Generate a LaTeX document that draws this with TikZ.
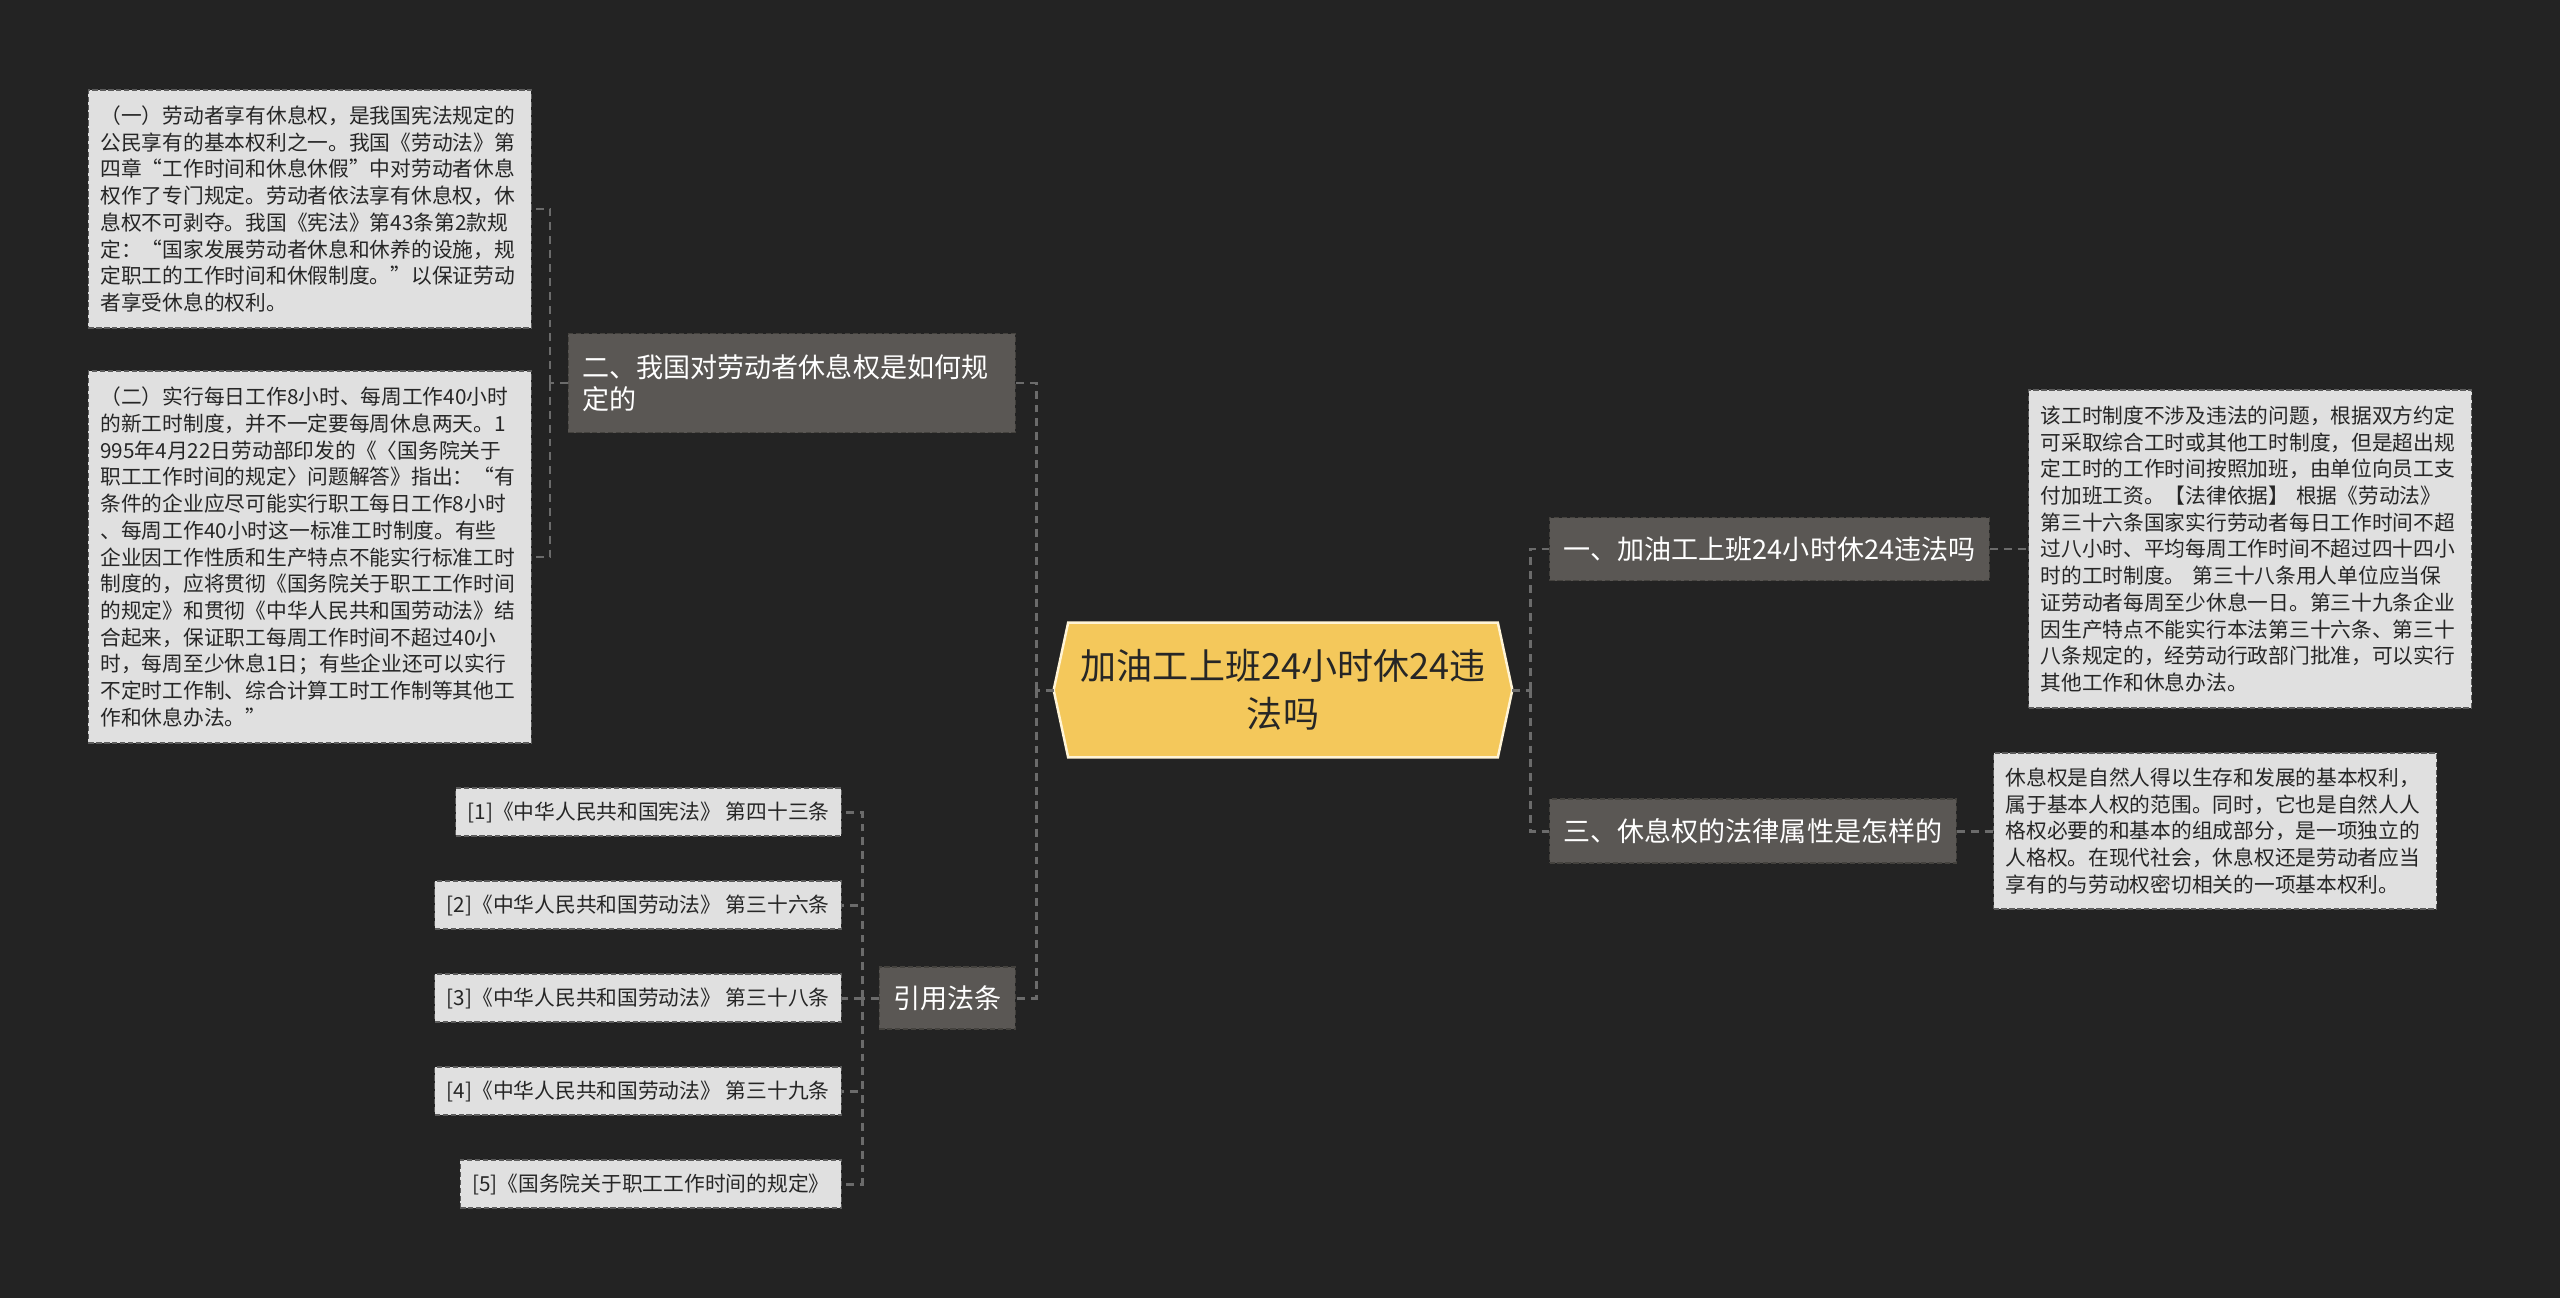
\documentclass[tikz,border=0pt]{standalone}
\usepackage{fontspec}
\setmainfont{Noto Sans CJK SC}
\usepackage{xcolor}
\usetikzlibrary{backgrounds}
\definecolor{canvas}{HTML}{232323}
\definecolor{gold}{HTML}{F4C85B}
\definecolor{goldrim}{HTML}{FFF4D6}
\definecolor{branchfill}{HTML}{5A5754}
\definecolor{branchrim}{HTML}{44423E}
\definecolor{leaffill}{HTML}{E0E0E0}
\definecolor{leafrim}{HTML}{5C5C5C}
\definecolor{wire}{HTML}{6B6B6B}
\newlength{\upx}\setlength{\upx}{0.02cm}

\begin{document}
\begin{tikzpicture}[x=0.02cm,y=-0.02cm,
  topic/.style={minimum width=458\upx,minimum height=134\upx,text width=420\upx,
    align=center,inner sep=0pt,text=black!85,
    font=\fontsize{20.5}{27.3}\selectfont},
  rim/.style={line width=0.6pt,dash pattern=on 3pt off 1.5pt},
  branch/.style={rim,draw=branchrim,fill=branchfill,text=white,inner xsep=14\upx,
    inner ysep=0pt,align=left,font=\fontsize{15.4}{18.2}\selectfont},
  leaf/.style={rim,draw=leafrim,fill=leaffill,text=black!85,text width=419\upx,
    inner xsep=12\upx,inner ysep=0pt,align=left,
    font=\fontsize{11.8}{15.2}\selectfont},
  cite/.style={rim,draw=leafrim,fill=leaffill,text=black!85,inner xsep=12\upx,
    inner ysep=0pt,minimum height=48\upx,anchor=east,
    font=\fontsize{11.8}{15.2}\selectfont},
  link/.style={draw=wire,line width=1.7pt,dash pattern=on 4.5pt off 3.4pt}]
\useasboundingbox (0,0) rectangle (2560,1298);

% centre topic
\node[topic] (root) at (1283,690) {加油工上班24小时休24违\\法吗};

% main branches
\node[branch,anchor=west,minimum height=63\upx] (b1) at (1549,549)
  {一、加油工上班24小时休24违法吗};
\node[branch,anchor=west,minimum height=64\upx] (b3) at (1549,831)
  {三、休息权的法律属性是怎样的};
\node[branch,anchor=east,minimum height=99\upx,text width=419\upx] (b2) at (1016,383)
  {二、我国对劳动者休息权是如何规\\定的};
\node[branch,anchor=east,minimum height=62\upx] (b4) at (1016,998) {引用法条};

% leaves
\node[leaf,anchor=east,minimum height=238\upx] (l21) at (532,209)
  {（一）劳动者享有休息权，是我国宪法规定的\\
   公民享有的基本权利之一。我国《劳动法》第\\
   四章“工作时间和休息休假”中对劳动者休息\\
   权作了专门规定。劳动者依法享有休息权，休\\
   息权不可剥夺。我国《宪法》第43条第2款规\\
   定：“国家发展劳动者休息和休养的设施，规\\
   定职工的工作时间和休假制度。”以保证劳动\\
   者享受休息的权利。};
\node[leaf,anchor=east,minimum height=372\upx] (l22) at (532,557)
  {（二）实行每日工作8小时、每周工作40小时\\
   的新工时制度，并不一定要每周休息两天。1\\
   995年4月22日劳动部印发的《〈国务院关于\\
   职工工作时间的规定〉问题解答》指出：“有\\
   条件的企业应尽可能实行职工每日工作8小时\\
   、每周工作40小时这一标准工时制度。有些\\
   企业因工作性质和生产特点不能实行标准工时\\
   制度的，应将贯彻《国务院关于职工工作时间\\
   的规定》和贯彻《中华人民共和国劳动法》结\\
   合起来，保证职工每周工作时间不超过40小\\
   时，每周至少休息1日；有些企业还可以实行\\
   不定时工作制、综合计算工时工作制等其他工\\
   作和休息办法。”};
\node[leaf,anchor=west,minimum height=318\upx] (r11) at (2028,549)
  {该工时制度不涉及违法的问题，根据双方约定\\
   可采取综合工时或其他工时制度，但是超出规\\
   定工时的工作时间按照加班，由单位向员工支\\
   付加班工资。【法律依据】 根据《劳动法》\\
   第三十六条国家实行劳动者每日工作时间不超\\
   过八小时、平均每周工作时间不超过四十四小\\
   时的工时制度。 第三十八条用人单位应当保\\
   证劳动者每周至少休息一日。第三十九条企业\\
   因生产特点不能实行本法第三十六条、第三十\\
   八条规定的，经劳动行政部门批准，可以实行\\
   其他工作和休息办法。};
\node[leaf,anchor=west,minimum height=156\upx] (r31) at (1993,831)
  {休息权是自然人得以生存和发展的基本权利，\\
   属于基本人权的范围。同时，它也是自然人人\\
   格权必要的和基本的组成部分，是一项独立的\\
   人格权。在现代社会，休息权还是劳动者应当\\
   享有的与劳动权密切相关的一项基本权利。};

% cited articles
\node[cite] (c1) at (842,812) {[1]《中华人民共和国宪法》 第四十三条};
\node[cite] (c2) at (842,905) {[2]《中华人民共和国劳动法》 第三十六条};
\node[cite] (c3) at (842,998) {[3]《中华人民共和国劳动法》 第三十八条};
\node[cite] (c4) at (842,1091) {[4]《中华人民共和国劳动法》 第三十九条};
\node[cite] (c5) at (842,1184) {[5]《国务院关于职工工作时间的规定》};

% junctions
\coordinate (jl) at (1036,690);
\coordinate (jr) at (1530,690);
\coordinate (j2) at (550,383);
\coordinate (j4) at (862,998);

\draw[link] (root.west) -- (jl);
\draw[link] (jl) |- (b2.east);
\draw[link] (jl) |- (b4.east);
\draw[link] (root.east) -- (jr);
\draw[link] (jr) |- (b1.west);
\draw[link] (jr) |- (b3.west);
\draw[link] (b1.east) -- (r11.west);
\draw[link] (b3.east) -- (r31.west);
\draw[link] (b2.west) -- (j2);
\draw[link] (j2) |- (l21.east);
\draw[link] (j2) |- (l22.east);
\draw[link] (b4.west) -- (j4);
\foreach \c in {c1,c2,c3,c4,c5}
  \draw[link] (j4) |- (\c.east);

\begin{scope}[on background layer]
\fill[canvas] (0,0) rectangle (2560,1298);
\filldraw[fill=gold,draw=goldrim,line width=1.4pt] (root.west)
  -- ([xshift=14.5\upx]root.north west) -- ([xshift=-14.5\upx]root.north east)
  -- (root.east) -- ([xshift=-14.5\upx]root.south east)
  -- ([xshift=14.5\upx]root.south west) -- cycle;
\end{scope}
\end{tikzpicture}
\end{document}
